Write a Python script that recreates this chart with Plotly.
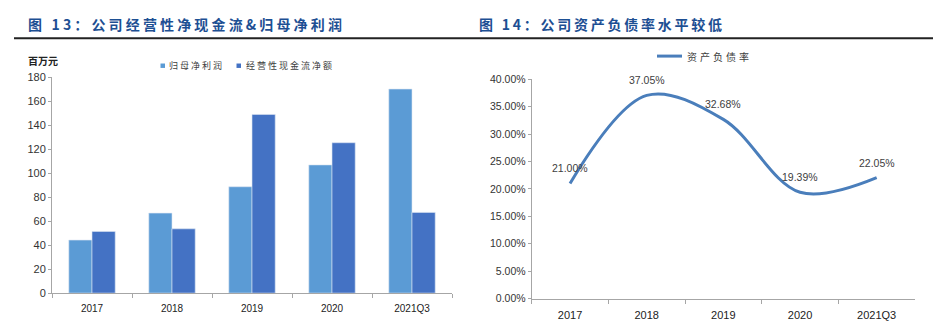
import plotly.graph_objects as go

W, H = 933, 327

# Left chart data
categories = ["2017", "2018", "2019", "2020", "2021Q3"]
net_profit = [44.2, 66.7, 88.7, 106.9, 170.2]
op_cash_flow = [51.4, 53.6, 149.0, 125.4, 67.3]
left_yticks = [0, 20, 40, 60, 80, 100, 120, 140, 160, 180]

# Right chart data
debt_ratio = [21.00, 37.05, 32.68, 19.39, 22.05]
debt_labels = ["21.00%", "37.05%", "32.68%", "19.39%", "22.05%"]
right_yticks = [0, 5, 10, 15, 20, 25, 30, 35, 40]
right_yticklabels = ["0.00%", "5.00%", "10.00%", "15.00%", "20.00%", "25.00%", "30.00%", "35.00%", "40.00%"]

LIGHT = "#5b9bd5"
DARK = "#4472c4"
LINE = "#4a7ebb"


def px_x(p):
    return p / W


def px_y(p):
    return 1 - p / H


TITLE_COLOR = "#1d4f93"
CJK = "Noto Sans CJK SC"
LAT = "Liberation Sans, Arial"
TICK_FONT = dict(family=LAT, size=11, color="#333333")
AXIS_COLOR = "#a6a6a6"


def spaced(txt, ls):
    return "<span style='letter-spacing:%spx'>%s</span>" % (ls, txt)


fig = go.Figure()

fig.add_trace(go.Bar(
    x=categories, y=net_profit, name="归母净利润",
    marker=dict(color=LIGHT, line=dict(color="#dce6f2", width=0.6)),
    xaxis="x", yaxis="y",
))
fig.add_trace(go.Bar(
    x=categories, y=op_cash_flow, name="经营性现金流净额",
    marker=dict(color=DARK, line=dict(color="#dce6f2", width=0.6)),
    xaxis="x", yaxis="y",
))

fig.add_trace(go.Scatter(
    x=categories, y=debt_ratio, name="资产负债率",
    mode="lines",
    line=dict(color=LINE, width=3, shape="spline", smoothing=1.0),
    xaxis="x2", yaxis="y2",
))

annotations = [
    dict(text="<b>" + spaced("图 13：公司经营性净现金流&归母净利润", 3.15) + "</b>",
         x=px_x(25.5), y=px_y(19), xref="paper", yref="paper", xanchor="left", yanchor="middle",
         showarrow=False, font=dict(family=CJK, size=14, color=TITLE_COLOR)),
    dict(text="<b>" + spaced("图 14：公司资产负债率水平较低", 2.75) + "</b>",
         x=px_x(477), y=px_y(19), xref="paper", yref="paper", xanchor="left", yanchor="middle",
         showarrow=False, font=dict(family=CJK, size=14, color=TITLE_COLOR)),
    dict(text="<b>百万元</b>", x=px_x(26), y=px_y(57),
         xref="paper", yref="paper", xanchor="left", yanchor="middle", showarrow=False,
         font=dict(family=CJK, size=10, color="#222222")),
    dict(text=spaced("归母净利润", 2), x=px_x(167), y=px_y(62),
         xref="paper", yref="paper", xanchor="left", yanchor="middle", showarrow=False,
         font=dict(family=CJK, size=9, color="#404040")),
    dict(text=spaced("经营性现金流净额", 2), x=px_x(244), y=px_y(62),
         xref="paper", yref="paper", xanchor="left", yanchor="middle", showarrow=False,
         font=dict(family=CJK, size=9, color="#404040")),
    dict(text=spaced("资产负债率", 3), x=px_x(685), y=px_y(52),
         xref="paper", yref="paper", xanchor="left", yanchor="middle", showarrow=False,
         font=dict(family=CJK, size=10, color="#404040")),
]

for i, (v, lab) in enumerate(zip(debt_ratio, debt_labels)):
    annotations.append(dict(
        text=lab, x=i, y=v, xref="x2", yref="y2", showarrow=False,
        xanchor="center", yanchor="middle", yshift=15,
        font=dict(family=LAT, size=10.5, color="#404040"),
    ))

shapes = [
    dict(type="line", xref="paper", yref="paper", x0=px_x(14), x1=1, y0=px_y(33.5), y1=px_y(33.5),
         line=dict(color="#222222", width=2)),
    dict(type="rect", xref="paper", yref="paper", x0=px_x(160.5), x1=px_x(165), y0=px_y(59.7), y1=px_y(64.3),
         fillcolor=LIGHT, line=dict(width=0)),
    dict(type="rect", xref="paper", yref="paper", x0=px_x(236.5), x1=px_x(241), y0=px_y(59.7), y1=px_y(64.3),
         fillcolor=DARK, line=dict(width=0)),
    dict(type="line", xref="paper", yref="paper", x0=px_x(657), x1=px_x(682), y0=px_y(52), y1=px_y(52),
         line=dict(color=LINE, width=3)),
]

fig.update_layout(
    width=W, height=H,
    margin=dict(l=0, r=0, t=0, b=0),
    paper_bgcolor="white", plot_bgcolor="white",
    barmode="group", bargap=0.42, bargroupgap=0,
    showlegend=False,
    xaxis=dict(
        domain=[px_x(52), px_x(452)], anchor="y",
        type="category", tickson="boundaries", ticks="outside", ticklen=4,
        tickcolor=AXIS_COLOR, showline=True, linecolor=AXIS_COLOR, linewidth=1,
        showgrid=False, tickfont=dict(family=LAT, size=10, color="#222222"),
        ticklabelstandoff=6,
    ),
    yaxis=dict(
        domain=[px_y(298), px_y(74)], anchor="x",
        range=[0, 180], tickvals=left_yticks, ticks="outside", ticklen=3,
        tickcolor=AXIS_COLOR, showline=True, linecolor=AXIS_COLOR, linewidth=1,
        showgrid=False, zeroline=False, tickfont=TICK_FONT,
    ),
    xaxis2=dict(
        domain=[px_x(531.7), px_x(915)], anchor="y2",
        type="category", range=[-0.5, 4.5], tickson="boundaries", ticks="outside", ticklen=4,
        tickcolor=AXIS_COLOR, showline=True, linecolor=AXIS_COLOR, linewidth=1,
        showgrid=False, tickfont=dict(family=LAT, size=11, color="#222222"),
        ticklabelstandoff=6,
    ),
    yaxis2=dict(
        domain=[px_y(303.7), px_y(76)], anchor="x2",
        range=[0, 40], tickvals=right_yticks, ticktext=right_yticklabels,
        ticks="outside", ticklen=3,
        tickcolor=AXIS_COLOR, showline=True, linecolor=AXIS_COLOR, linewidth=1,
        showgrid=False, zeroline=False, tickfont=dict(family=LAT, size=10.5, color="#333333"),
    ),
    annotations=annotations,
    shapes=shapes,
)

fig.write_html("out.html")
